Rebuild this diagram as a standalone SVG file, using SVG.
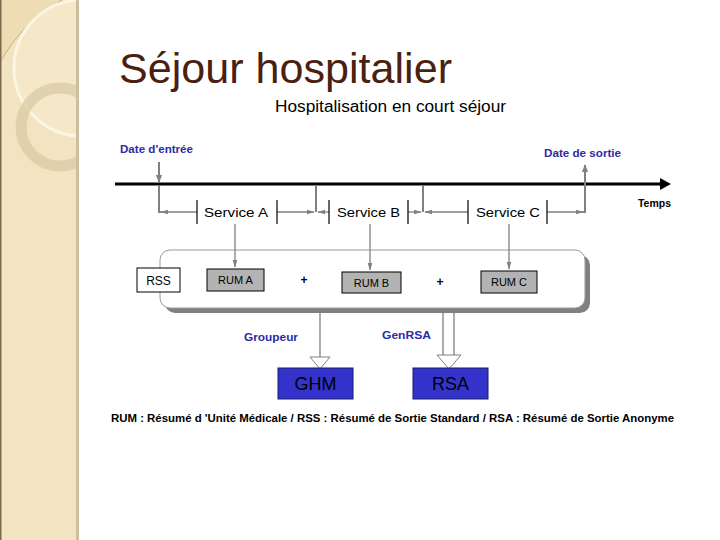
<svg xmlns="http://www.w3.org/2000/svg" width="720" height="540" viewBox="0 0 720 540">
<defs>
<style>
.t{font-family:"Liberation Sans","DejaVu Sans",sans-serif;}
.blue{fill:#2b2ba6;font-weight:bold;font-size:11px;}
.g{stroke:#808080;fill:none;}
.tick{stroke:#000;stroke-width:1.2;}
.box{stroke:#000;stroke-width:1;}
</style>
<marker id="ah" viewBox="0 0 10 10" refX="9" refY="5" markerWidth="4" markerHeight="4" orient="auto-start-reverse" markerUnits="strokeWidth">
<path d="M0,1 L10,5 L0,9 z" fill="#808080"/>
</marker>
<marker id="ahs" viewBox="0 0 10 10" refX="9" refY="5" markerWidth="6" markerHeight="6" orient="auto" markerUnits="strokeWidth">
<path d="M0,2 L10,5 L0,8 z" fill="#808080"/>
</marker>
<clipPath id="side"><rect x="0" y="0" width="78" height="540"/></clipPath>
</defs>

<rect width="720" height="540" fill="#fff"/>

<g id="sidebar">
<rect x="0" y="0" width="78" height="540" fill="#f2e4c0"/>
<g clip-path="url(#side)">
<path d="M0,0 L62,0 Q20,25 0,62 Z" fill="#eddcb4"/>
<path d="M0,62 Q22,22 62,0" fill="none" stroke="#b8a27c" stroke-width="0.8"/>
<circle cx="82" cy="68" r="68" fill="#f6ecd2" fill-opacity="0.5" stroke="#fbf5e6" stroke-width="3"/>
<circle cx="60" cy="127" r="39" fill="none" stroke="#d9c9a4" stroke-opacity="0.7" stroke-width="11"/>
</g>
<rect x="0" y="0" width="1.5" height="540" fill="#7b6b4f"/>
<rect x="76" y="0" width="3" height="540" fill="#cbbf9f"/>
</g>

<g id="title"><text class="t" x="119" y="83" font-size="43" fill="#4b1f12" textLength="333" lengthAdjust="spacingAndGlyphs">Séjour hospitalier</text></g>
<g id="subtitle"><text class="t" x="275" y="112" font-size="16" fill="#000" textLength="231" lengthAdjust="spacingAndGlyphs">Hospitalisation en court séjour</text></g>

<g id="labels">
<text class="t blue" x="120" y="153" textLength="73" lengthAdjust="spacingAndGlyphs">Date d'entrée</text>
<text class="t blue" x="544" y="157" textLength="77" lengthAdjust="spacingAndGlyphs">Date de sortie</text>
<text class="t" x="638" y="207" font-size="11" font-weight="bold" fill="#000" textLength="33" lengthAdjust="spacingAndGlyphs">Temps</text>
<text class="t blue" x="244" y="341" textLength="54" lengthAdjust="spacingAndGlyphs">Groupeur</text>
<text class="t blue" x="382" y="339" textLength="49" lengthAdjust="spacingAndGlyphs">GenRSA</text>
</g>

<g id="axis">
<line x1="115" y1="184" x2="662" y2="184" stroke="#000" stroke-width="3"/>
<path d="M660,178 L671,184 L660,190 Z" fill="#000"/>
</g>

<g id="panel">
<rect x="165" y="255" width="425" height="58" rx="10" fill="#808080"/>
<rect x="160" y="250" width="425" height="58" rx="10" fill="#fff" stroke="#9a9a9a" stroke-width="1"/>
</g>

<g id="connectors">
<line class="g" x1="159" y1="162" x2="159" y2="182" stroke-width="2" marker-end="url(#ah)"/>
<path class="g" d="M159,185 V212 H161" stroke-width="2"/>
<line class="g" x1="197" y1="212" x2="161" y2="212" stroke-width="1.3" marker-end="url(#ahs)"/>
<line class="g" x1="277" y1="212" x2="314" y2="212" stroke-width="1.3" marker-end="url(#ahs)"/>
<line class="g" x1="316" y1="185" x2="316" y2="212" stroke-width="2"/>
<line class="g" x1="329" y1="212" x2="318" y2="212" stroke-width="1.3" marker-end="url(#ahs)"/>
<line class="g" x1="408" y1="212" x2="421" y2="212" stroke-width="1.3" marker-end="url(#ahs)"/>
<line class="g" x1="423" y1="185" x2="423" y2="212" stroke-width="2"/>
<line class="g" x1="468" y1="212" x2="425" y2="212" stroke-width="1.3" marker-end="url(#ahs)"/>
<line class="g" x1="547" y1="212" x2="583" y2="212" stroke-width="1.3" marker-end="url(#ahs)"/>
<path class="g" d="M583,212 H585 V165" stroke-width="2" marker-end="url(#ah)"/>

<line class="tick" x1="197" y1="200" x2="197" y2="224"/>
<line class="tick" x1="277" y1="200" x2="277" y2="224"/>
<line class="tick" x1="329" y1="200" x2="329" y2="224"/>
<line class="tick" x1="408" y1="200" x2="408" y2="224"/>
<line class="tick" x1="468" y1="200" x2="468" y2="224"/>
<line class="tick" x1="547" y1="200" x2="547" y2="224"/>

<line class="g" x1="235" y1="224" x2="235" y2="267" stroke-width="1.3" marker-end="url(#ahs)"/>
<line class="g" x1="370" y1="224" x2="370" y2="270" stroke-width="1.3" marker-end="url(#ahs)"/>
<line class="g" x1="509" y1="224" x2="509" y2="269" stroke-width="1.3" marker-end="url(#ahs)"/>

<line class="g" x1="320" y1="313" x2="320" y2="357" stroke-width="1.3"/>
<path d="M310,357 L330,357 L320,369 Z" fill="#fff" stroke="#808080" stroke-width="1"/>
<line class="g" x1="443" y1="313" x2="443" y2="355" stroke-width="1.3"/>
<line class="g" x1="454" y1="313" x2="454" y2="355" stroke-width="1.3"/>
<path d="M437,355 L461,355 L449,369 Z" fill="#fff" stroke="#808080" stroke-width="1"/>
</g>

<g id="services">
<text class="t" x="204" y="217" font-size="13" fill="#000" textLength="64" lengthAdjust="spacingAndGlyphs">Service A</text>
<text class="t" x="337" y="217" font-size="13" fill="#000" textLength="63" lengthAdjust="spacingAndGlyphs">Service B</text>
<text class="t" x="476" y="217" font-size="13" fill="#000" textLength="64" lengthAdjust="spacingAndGlyphs">Service C</text>
</g>

<g id="rss">
<rect class="box" x="137" y="268" width="43" height="24" fill="#fff" stroke="#555"/>
<text class="t" x="158.5" y="285" font-size="12" text-anchor="middle" fill="#000">RSS</text>
</g>
<g id="rumA">
<rect class="box" x="207" y="269" width="57" height="22" fill="#b3b3b3"/>
<text class="t" x="235.5" y="284" font-size="11" text-anchor="middle" fill="#000">RUM A</text>
</g>
<g id="rumB">
<rect class="box" x="342" y="272" width="59" height="21" fill="#b3b3b3"/>
<text class="t" x="371.5" y="287" font-size="11" text-anchor="middle" fill="#000">RUM B</text>
</g>
<g id="rumC">
<rect class="box" x="481" y="271" width="56" height="22" fill="#b3b3b3"/>
<text class="t" x="509" y="286" font-size="11" text-anchor="middle" fill="#000">RUM C</text>
</g>
<g id="plus">
<text class="t" x="304" y="284" font-size="12" font-weight="bold" text-anchor="middle" fill="#000">+</text>
<text class="t" x="440" y="286" font-size="12" font-weight="bold" text-anchor="middle" fill="#000">+</text>
</g>

<g id="ghm">
<rect x="278" y="368" width="75" height="31" fill="#3333cc" stroke="#1a1a66" stroke-width="1"/>
<text class="t" x="315.5" y="390" font-size="18" text-anchor="middle" fill="#000">GHM</text>
</g>
<g id="rsa">
<rect x="413" y="368" width="75" height="31" fill="#3333cc" stroke="#1a1a66" stroke-width="1"/>
<text class="t" x="450.5" y="390" font-size="18" text-anchor="middle" fill="#000">RSA</text>
</g>

<g id="footer">
<text class="t" x="111" y="422" font-size="10.5" font-weight="bold" fill="#000" textLength="563" lengthAdjust="spacingAndGlyphs">RUM : Résumé d 'Unité Médicale / RSS : Résumé de Sortie Standard / RSA : Résumé de Sortie Anonyme</text>
</g>
</svg>
